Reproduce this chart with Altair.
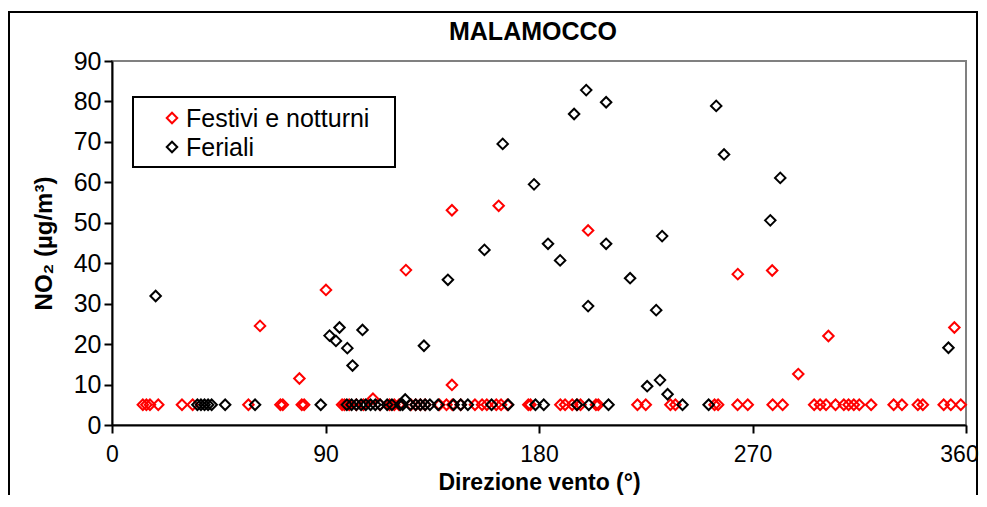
import altair as alt
import pandas as pd

series_names = ["Festivi e notturni", "Feriali"]
series_colors = ["#FF0000", "#000000"]

# Festivi e notturni (red)
fest_dir = [13, 14.5, 16, 19.5, 29.5, 34, 57.5, 71, 72, 80, 81, 97, 98, 100, 103, 106,
            113, 117, 119, 121, 126, 128, 130, 132, 138, 141, 143.5, 147, 153, 156, 158,
            162, 164, 166.7, 175.5, 176.4, 189, 191, 194, 196, 197.5, 204, 205, 221.5,
            225, 235.4, 237.5, 254, 255.5, 263.7, 268, 278.5, 282.7, 296, 298.5, 301,
            305, 308.5, 310.5, 312.7, 315, 320, 329.5, 333, 339.7, 341.8, 350.6, 353.6,
            357.8,
            62.4, 79, 90.2, 110, 123.9, 143.3, 143.3, 163, 200.7, 263.8, 278.3, 289.3,
            302, 355.1]
fest_no2 = [5, 5, 5, 5, 5, 5, 5, 5, 5, 5, 5, 5, 5, 5, 5, 5,
            5, 5, 5, 5, 5, 5, 5, 5, 5, 5, 5, 5, 5, 5, 5,
            5, 5, 5, 5, 5, 5, 5, 5, 5, 5, 5, 5, 5,
            5, 5, 5, 5, 5, 5, 5, 5, 5, 5, 5, 5,
            5, 5, 5, 5, 5, 5, 5, 5, 5, 5, 5, 5,
            5,
            24.5, 11.5, 33.4, 6.5, 38.3, 53.1, 9.9, 54.2, 48.1, 37.3, 38.2, 12.6,
            22, 24.1]

# Feriali (black)
fer_dir = [36, 37.5, 39, 40.5, 42, 47.7, 60.3, 88, 99, 101, 103, 105, 107, 109, 111,
           113, 116, 118, 121.5, 122.5, 125.7, 128, 130, 132, 134, 137.5, 144, 147, 150,
           160, 167, 178.5, 182, 196, 201, 209.3, 240.5, 251.5,
           18.4, 91.7, 94.4, 95.9, 99.2, 101.4, 105.6, 123.6, 131.5, 141.6, 157, 164.7,
           177.9, 183.8, 188.9, 194.8, 199.9, 200.7, 208.3, 208.3, 218.4, 225.6, 229.4,
           231, 231.9, 234.2, 254.7, 258, 277.5, 281.7, 352.6]
fer_no2 = [5, 5, 5, 5, 5, 5, 5, 5, 5, 5, 5, 5, 5, 5, 5,
           5, 5, 5, 5, 5, 5, 5, 5, 5, 5, 5, 5, 5, 5,
           5, 5, 5, 5, 5, 5, 5, 5, 5,
           31.9, 22.1, 20.8, 24.1, 19, 14.7, 23.5, 6.3, 19.6, 35.9, 43.3, 69.5,
           59.5, 44.8, 40.7, 76.9, 82.8, 29.4, 79.8, 44.8, 36.3, 9.6, 28.4,
           11.1, 46.7, 7.6, 78.9, 66.9, 50.6, 61.1, 19.1]

x_ticks = [0, 90, 180, 270, 360]
y_ticks = [0, 10, 20, 30, 40, 50, 60, 70, 80, 90]

df = pd.concat([
    pd.DataFrame({"dir": fest_dir, "no2": fest_no2, "serie": series_names[0], "ord": 0}),
    pd.DataFrame({"dir": fer_dir, "no2": fer_no2, "serie": series_names[1], "ord": 1}),
], ignore_index=True)

FONT = "Liberation Sans"
W, H = 854, 364

points = alt.Chart(df).mark_point(shape="diamond", filled=False, size=110, strokeWidth=2, opacity=1).encode(
    x=alt.X("dir:Q", scale=alt.Scale(domain=[0, 360], nice=False),
            axis=alt.Axis(values=x_ticks, title="Direzione vento (°)", grid=False,
                          labelFontSize=23, titleFontSize=23, titleFontWeight="bold",
                          labelPadding=10, tickSize=8, labelFlush=False,
                          labelOffset={"condition": {"test": "datum.value == 360", "value": -7}, "value": 0},
                          titleBaseline="alphabetic", titleY=64)),
    y=alt.Y("no2:Q", scale=alt.Scale(domain=[0, 90], nice=False),
            axis=alt.Axis(values=y_ticks, title="NO₂ (µg/m³)", grid=False,
                          labelFontSize=25, titleFontSize=24, titleFontWeight="bold",
                          labelPadding=3, tickSize=8, titlePadding=17, labelFlush=False)),
    color=alt.Color("serie:N", scale=alt.Scale(domain=series_names, range=series_colors), legend=None),
    order=alt.Order("ord:Q"),
)

one = alt.Data(values=[{}])

frame = alt.Chart(one).mark_rect(filled=False, stroke="black", strokeWidth=2).encode(
    x=alt.value(-103), x2=alt.value(865), y=alt.value(-49), y2=alt.value(470))

title = alt.Chart(one).mark_text(text="MALAMOCCO", font=FONT, fontSize=25, fontWeight="bold",
                                 align="center", baseline="middle").encode(
    x=alt.value(421), y=alt.value(-29))

leg_box = alt.Chart(one).mark_rect(filled=False, stroke="black", strokeWidth=2).encode(
    x=alt.value(21), x2=alt.value(283), y=alt.value(36), y2=alt.value(106))

leg_layers = []
for i, (name, col) in enumerate(zip(series_names, series_colors)):
    yy = 57 + 29 * i
    leg_layers.append(alt.Chart(one).mark_point(shape="diamond", filled=False, size=110, strokeWidth=2,
                                                color=col, opacity=1).encode(
        x=alt.value(60), y=alt.value(yy)))
    leg_layers.append(alt.Chart(one).mark_text(text=name, font=FONT, fontSize=25, align="left",
                                               baseline="middle", color="black").encode(
        x=alt.value(74), y=alt.value(yy + 1)))

chart = alt.layer(frame, points, title, leg_box, *leg_layers).properties(
    width=W, height=H,
    autosize=alt.AutoSizeParams(type="none"),
    padding={"left": 104, "top": 53, "right": 13, "bottom": 70},
).configure_view(stroke="#808080", strokeWidth=2).configure_axis(
    domainColor="black", domainWidth=2, tickColor="black", tickWidth=2,
    labelColor="black", titleColor="black", labelFont=FONT, titleFont=FONT,
)

chart.save("out.html", embed_options={"renderer": "svg", "actions": False})
